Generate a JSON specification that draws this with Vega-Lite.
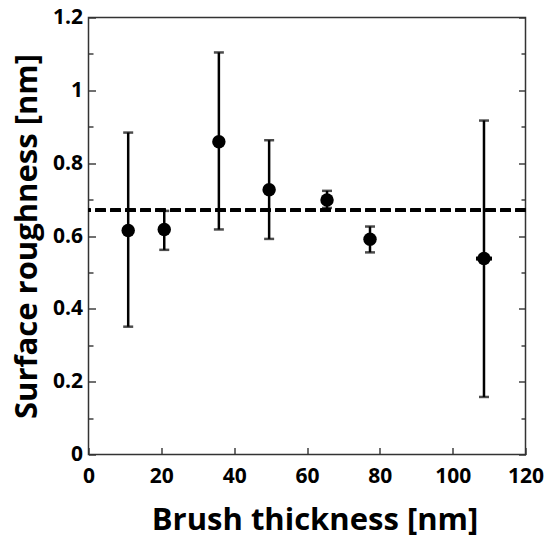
{
  "$schema": "https://vega.github.io/schema/vega-lite/v6.json",
  "width": 437,
  "height": 437,
  "autosize": "none",
  "padding": {"left": 88.5, "top": 17.5, "right": 24.5, "bottom": 93.5},
  "background": "white",
  "config": {
    "view": {"stroke": "#333", "strokeWidth": 1.5},
    "font": "Open Sans",
    "axis": {
      "domain": false, "grid": false, "labelFlush": false, "labelOverlap": false,
      "tickColor": "#333", "tickWidth": 1.4,
      "labelFont": "Open Sans", "labelFontWeight": "bold", "labelFontSize": 21, "labelColor": "black",
      "titleFont": "Open Sans", "titleFontWeight": "bold", "titleFontSize": 31, "titleColor": "black"
    }
  },
  "data": {
    "values": [
      {"t": 10.9, "r": 0.615, "lo": 0.351, "hi": 0.884},
      {"t": 20.8, "r": 0.618, "lo": 0.562, "hi": 0.669},
      {"t": 35.8, "r": 0.859, "lo": 0.618, "hi": 1.104},
      {"t": 49.6, "r": 0.727, "lo": 0.592, "hi": 0.863},
      {"t": 65.5, "r": 0.699, "lo": 0.677, "hi": 0.724},
      {"t": 77.3, "r": 0.591, "lo": 0.555, "hi": 0.626},
      {"t": 108.6, "r": 0.538, "lo": 0.158, "hi": 0.917, "tlo": 106.4, "thi": 110.8}
    ]
  },
  "resolve": {"axis": {"y": "independent"}},
  "layer": [
    {
      "mark": {"type": "rule", "strokeWidth": 3.5, "strokeDash": [10, 5], "color": "black"},
      "encoding": {
        "y": {"datum": 0.671, "type": "quantitative", "scale": {"domain": [0, 1.2], "nice": false, "zero": true},
          "axis": {"orient": "left", "title": "Surface roughness [nm]", "values": [0, 0.2, 0.4, 0.6, 0.8, 1, 1.2], "labelExpr": "datum.value == 0 ? '0' : datum.value == 1 ? '1' : format(datum.value, '.1f')", "tickSize": -7, "labelPadding": 13, "titlePadding": 9}}
      }
    },
    {
      "mark": {"type": "rule", "strokeWidth": 2.5, "color": "black"},
      "encoding": {
        "x": {"field": "t", "type": "quantitative", "scale": {"domain": [0, 120], "nice": false},
          "axis": {"orient": "bottom", "title": "Brush thickness [nm]", "values": [0, 10, 20, 30, 40, 50, 60, 70, 80, 90, 100, 110, 120], "labelExpr": "datum.value % 20 === 0 ? datum.label : ''", "tickSize": {"condition": {"test": "datum.value % 20 === 0", "value": -7}, "value": -4.5}, "labelPadding": 18, "titlePadding": 19, "titleX": 226}},
        "y": {"field": "lo", "type": "quantitative", "scale": {"domain": [0, 1.2], "nice": false},
          "axis": {"orient": "right", "title": null, "labels": false, "values": [0, 0.2, 0.4, 0.6, 0.8, 1, 1.2], "tickSize": -7}},
        "y2": {"field": "hi"}
      }
    },
    {
      "mark": {"type": "tick", "orient": "horizontal", "size": 10, "thickness": 2.5, "color": "black"},
      "encoding": {
        "x": {"field": "t", "type": "quantitative", "scale": {"domain": [0, 120], "nice": false}},
        "y": {"field": "hi", "type": "quantitative", "scale": {"domain": [0, 1.2], "nice": false},
          "axis": {"orient": "left", "title": null, "labels": false, "values": [0.1, 0.3, 0.5, 0.7, 0.9, 1.1], "tickSize": -4.5}}
      }
    },
    {
      "mark": {"type": "tick", "orient": "horizontal", "size": 10, "thickness": 2.5, "color": "black"},
      "encoding": {
        "x": {"field": "t", "type": "quantitative", "scale": {"domain": [0, 120], "nice": false}},
        "y": {"field": "lo", "type": "quantitative", "scale": {"domain": [0, 1.2], "nice": false},
          "axis": {"orient": "right", "title": null, "labels": false, "values": [0.1, 0.3, 0.5, 0.7, 0.9, 1.1], "tickSize": -4.5}}
      }
    },
    {
      "mark": {"type": "rule", "strokeWidth": 4, "color": "black"},
      "encoding": {
        "x": {"field": "tlo", "type": "quantitative", "scale": {"domain": [0, 120], "nice": false}},
        "x2": {"field": "thi"},
        "y": {"field": "r", "type": "quantitative", "scale": {"domain": [0, 1.2], "nice": false}, "axis": null}
      }
    },
    {
      "mark": {"type": "point", "shape": "circle", "filled": true, "size": 180, "color": "black", "opacity": 1},
      "encoding": {
        "x": {"field": "t", "type": "quantitative", "scale": {"domain": [0, 120], "nice": false}},
        "y": {"field": "r", "type": "quantitative", "scale": {"domain": [0, 1.2], "nice": false}, "axis": null}
      }
    }
  ]
}
